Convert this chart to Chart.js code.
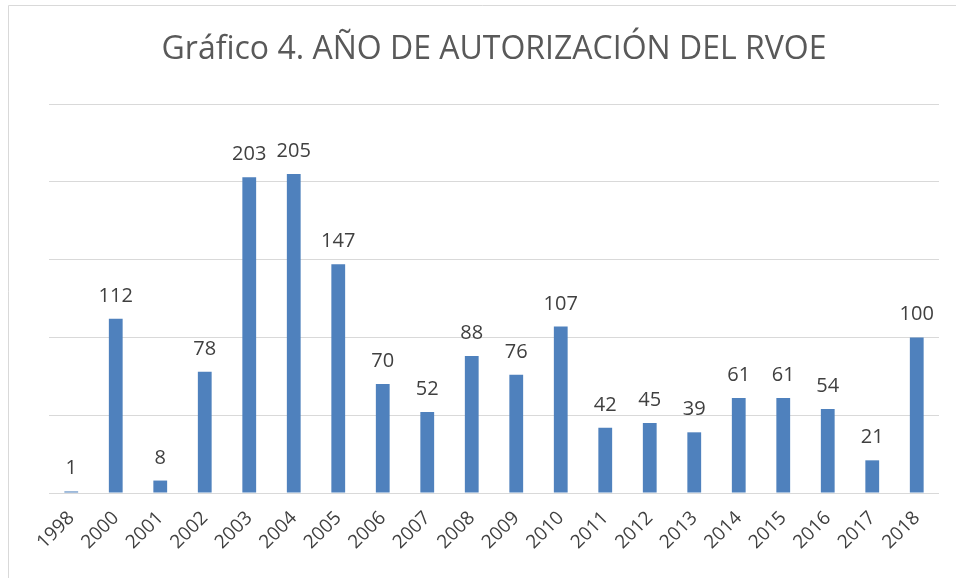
<!DOCTYPE html>
<html>
<head>
<meta charset="utf-8">
<script src="https://cdn.jsdelivr.net/npm/chart.js@4"></script>
<style>
  html, body { margin: 0; padding: 0; background: #fff; }
  #wrap { width: 956px; height: 578px; position: relative; }
</style>
</head>
<body>
<div id="wrap"><canvas id="chart" width="956" height="578"></canvas></div>
<script>
const years = ["1998", "2000", "2001", "2002", "2003", "2004", "2005", "2006", "2007", "2008",
    "2009", "2010", "2011", "2012", "2013", "2014", "2015", "2016", "2017", "2018"];
const counts = [1, 112, 8, 78, 203, 205, 147, 70, 52, 88, 76, 107, 42, 45, 39, 61, 61, 54, 21, 100];

// value labels above each bar
const valueLabels = {
    id: "valueLabels",
    afterDatasetsDraw(chart) {
        const ctx = chart.ctx;
        const meta = chart.getDatasetMeta(0);
        ctx.save();
        ctx.font = "20px 'Open Sans', sans-serif";
        ctx.fillStyle = "#404040";
        ctx.textAlign = "center";
        ctx.textBaseline = "alphabetic";
        meta.data.forEach((bar, i) => {
            ctx.fillText(counts[i], bar.x, bar.y - 17);
        });
        ctx.restore();
    }
};

// outer frame (only left and top edges show in the picture)
const frame = {
    id: "frame",
    beforeDraw(chart) {
        const ctx = chart.ctx;
        ctx.save();
        ctx.strokeStyle = "#d9d9d9";
        ctx.lineWidth = 1;
        ctx.beginPath();
        ctx.moveTo(8.5, 578);
        ctx.lineTo(8.5, 5.5);
        ctx.lineTo(956, 5.5);
        ctx.stroke();
        ctx.restore();
    }
};

new Chart(document.getElementById("chart"), {
    type: "bar",
    data: {
        labels: years,
        datasets: [{
            data: counts,
            backgroundColor: "#4f81bd",
            categoryPercentage: 1,
            barPercentage: 0.31
        }]
    },
    options: {
        responsive: false,
        animation: false,
        layout: { padding: { left: 49, right: 17, top: 10, bottom: 0 } },
        plugins: {
            legend: { display: false },
            tooltip: { enabled: false },
            title: {
                display: true,
                text: "Gráfico 4. AÑO DE AUTORIZACIÓN DEL RVOE",
                color: "#595959",
                font: { family: "'Open Sans', sans-serif", size: 32, weight: "normal" },
                padding: { top: 21, bottom: 34.6 }
            }
        },
        scales: {
            x: {
                grid: { display: false },
                border: { display: false },
                afterFit(scale) { scale.height = 85; },
                ticks: {
                    color: "#404040",
                    font: { family: "'Open Sans', sans-serif", size: 19 },
                    minRotation: 45,
                    maxRotation: 45,
                    padding: 6
                }
            },
            y: {
                min: 0,
                max: 250,
                ticks: { display: false, stepSize: 50 },
                grid: { color: "#d9d9d9", drawTicks: false },
                border: { display: false }
            }
        }
    },
    plugins: [frame, valueLabels]
});
</script>
</body>
</html>
